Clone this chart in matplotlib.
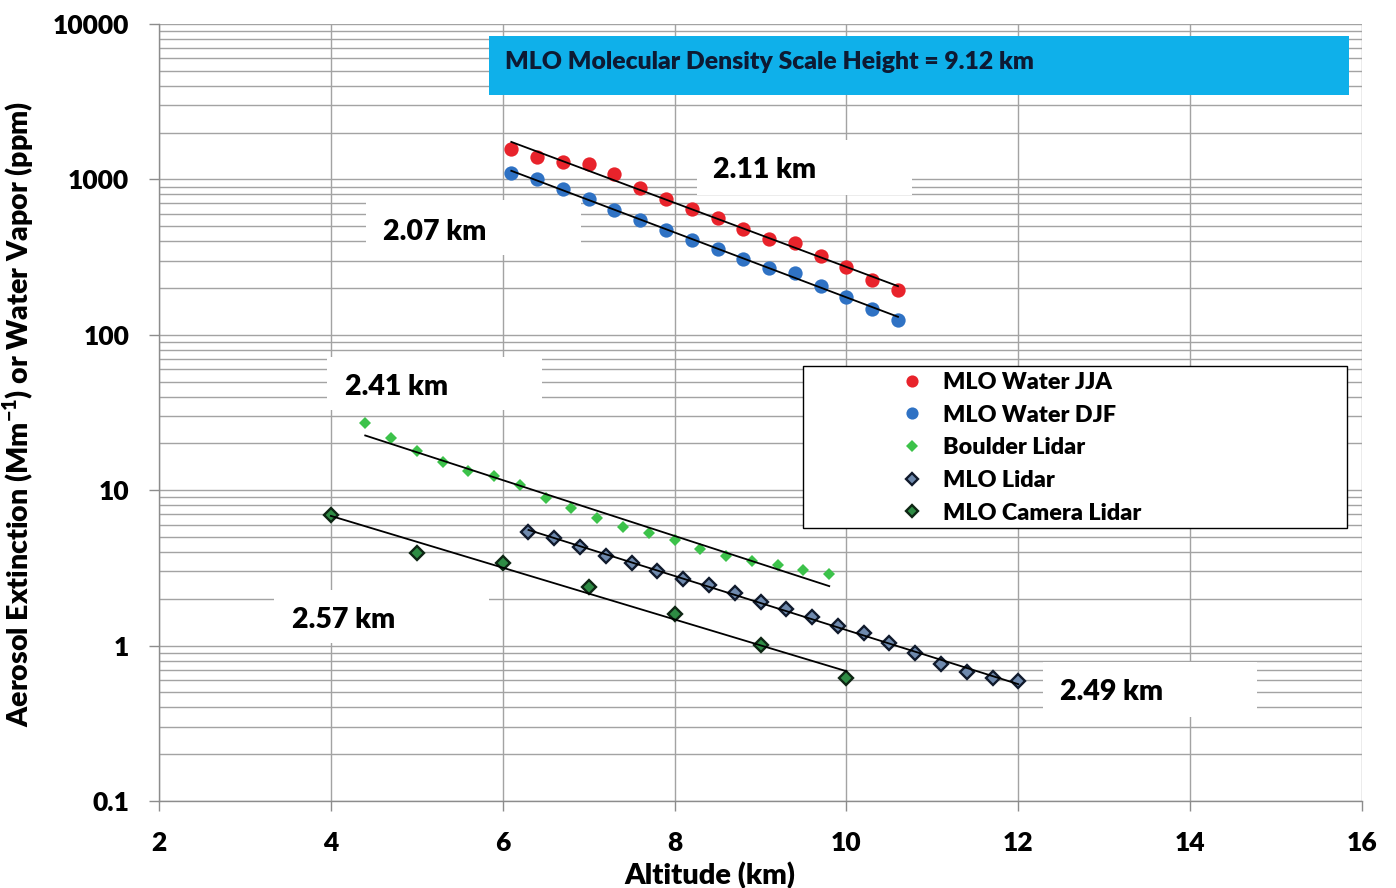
import numpy as np
import matplotlib
matplotlib.use("Agg")
import matplotlib.pyplot as plt
from matplotlib.patches import Rectangle
from matplotlib.ticker import FixedLocator, LogLocator, NullFormatter, FuncFormatter

# ---------------- data ----------------
x_water = [6.1, 6.4, 6.7, 7.0, 7.3, 7.6, 7.9, 8.2, 8.5, 8.8, 9.1, 9.4, 9.7, 10.0, 10.3, 10.6]
water_jja = [1560, 1400, 1300, 1255, 1080, 880, 750, 645, 565, 478, 412, 388, 320, 274, 225, 194]
water_djf = [1095, 1000, 865, 745, 640, 548, 472, 407, 357, 306, 268, 251, 207, 176, 147, 125]

x_boulder = [4.4, 4.7, 5.0, 5.3, 5.6, 5.9, 6.2, 6.5, 6.8, 7.1, 7.4, 7.7, 8.0, 8.3, 8.6, 8.9, 9.2, 9.5, 9.8]
boulder_lidar = [26.9, 21.6, 17.9, 15.2, 13.3, 12.3, 10.8, 8.87, 7.71, 6.65, 5.82, 5.28, 4.78, 4.17,
                 3.79, 3.52, 3.30, 3.06, 2.89]

x_mlo = [6.3, 6.6, 6.9, 7.2, 7.5, 7.8, 8.1, 8.4, 8.7, 9.0, 9.3, 9.6, 9.9, 10.2, 10.5, 10.8,
         11.1, 11.4, 11.7, 12.0]
mlo_lidar = [5.41, 4.90, 4.33, 3.79, 3.41, 3.02, 2.68, 2.45, 2.17, 1.92, 1.71, 1.53, 1.34, 1.21,
             1.04, 0.89, 0.758, 0.680, 0.621, 0.592]

x_camera = [4, 5, 6, 7, 8, 9, 10]
camera_lidar = [6.92, 3.96, 3.39, 2.39, 1.60, 1.01, 0.616]

series_names = ["MLO Water JJA", "MLO Water DJF", "Boulder Lidar", "MLO Lidar", "MLO Camera Lidar"]
scale_labels = ["2.11 km", "2.07 km", "2.41 km", "2.57 km", "2.49 km"]
title_text = "MLO Molecular Density Scale Height = 9.12 km"
x_ticks = [2, 4, 6, 8, 10, 12, 14, 16]
y_ticks = [0.1, 1, 10, 100, 1000, 10000]

# ---------------- style ----------------
WT = 'heavy'
plt.rcParams['font.family'] = ['Lato', 'DejaVu Sans']
plt.rcParams['font.weight'] = WT
plt.rcParams['mathtext.fontset'] = 'custom'
plt.rcParams['mathtext.rm'] = 'Lato:heavy'
plt.rcParams['mathtext.bf'] = 'Lato:heavy'

W, H = 1396, 888
fig = plt.figure(figsize=(W / 100, H / 100), dpi=100)
AX_L, AX_R, AX_T, AX_B = 159, 1362, 24, 801
ax = fig.add_axes([AX_L / W, (H - AX_B) / H, (AX_R - AX_L) / W, (AX_B - AX_T) / H])


def axx(px):
    return (px - AX_L) / (AX_R - AX_L)


def axy(py):
    return (AX_B - py) / (AX_B - AX_T)


GRID = '#a3a3a3'
ax.set_yscale('log')
ax.set_xlim(2, 16)
ax.set_ylim(0.1, 10000)
ax.xaxis.set_major_locator(FixedLocator(x_ticks))
ax.yaxis.set_major_locator(FixedLocator(y_ticks))
ax.yaxis.set_minor_locator(LogLocator(base=10, subs=np.arange(2, 10)))
ax.yaxis.set_minor_formatter(NullFormatter())
ax.yaxis.set_major_formatter(FuncFormatter(lambda v, p: f"{v:g}"))
ax.set_axisbelow(True)
ax.grid(True, which='major', axis='both', color=GRID, lw=1.0)
ax.grid(True, which='minor', axis='y', color=GRID, lw=1.0)
for s in ['top', 'right']:
    ax.spines[s].set_visible(False)
for s in ['left', 'bottom']:
    ax.spines[s].set_color('#8c8c8c')
    ax.spines[s].set_linewidth(1.0)
ax.tick_params(axis='both', which='major', direction='out', length=7, width=1.0, color='#8c8c8c',
               labelsize=19, labelcolor='black')
ax.tick_params(axis='x', which='major', pad=14.5)
ax.tick_params(axis='y', which='major', pad=14.5)
ax.tick_params(axis='y', which='minor', length=0)
for lab in ax.get_xticklabels() + ax.get_yticklabels():
    lab.set_fontweight(WT)

ax.set_xlabel("Altitude (km)", fontsize=21, fontweight=WT)
ax.xaxis.set_label_coords(axx(710), axy(862))
ax.set_ylabel(r"Aerosol Extinction (Mm$^{-1}$) or Water Vapor (ppm)", fontsize=20.5, fontweight=WT)
ax.yaxis.set_label_coords(axx(36), axy(414))

# ---------------- data series ----------------
RED = '#e8232b'
BLUE = '#2f72c4'
LGREEN = '#3cc24a'
ax.plot(x_water, water_jja, 'o', color=RED, ms=10.3, mew=0, zorder=3, label=series_names[0])
ax.plot(x_water, water_djf, 'o', color=BLUE, ms=10.3, mew=0, zorder=3, label=series_names[1])
ax.plot(x_boulder, boulder_lidar, 'D', color=LGREEN, ms=6.6, mew=0, zorder=3, label=series_names[2])
ax.plot(x_mlo, mlo_lidar, 'D', mfc='#6f8aae', mec='#101a2c', ms=7.4, mew=1.7, ls='none', zorder=3,
        label=series_names[3])
ax.plot(x_camera, camera_lidar, 'D', mfc='#2e8c44', mec='#0e2614', ms=7.4, mew=1.7, ls='none', zorder=3,
        label=series_names[4])

# exponential fit lines
for xs, ys in [(x_water, water_jja), (x_water, water_djf), (x_boulder, boulder_lidar),
               (x_mlo, mlo_lidar), (x_camera, camera_lidar)]:
    xa = np.asarray(xs, float)
    k, b = np.polyfit(xa, np.log(ys), 1)
    xf = np.array([xa.min(), xa.max()])
    ax.plot(xf, np.exp(b + k * xf), color='black', lw=1.3, zorder=4)

# ---------------- scale-height labels with white boxes ----------------
label_boxes = [(697, 912, 140, 195, 713, 170),
               (366, 581, 200, 255, 383, 232),
               (327, 542, 357, 410, 345, 387),
               (274, 489, 590, 643, 292, 620),
               (1043, 1257, 662, 717, 1060, 692)]
for txt, (x0, x1, y0, y1, tx, ty) in zip(scale_labels, label_boxes):
    ax.add_patch(Rectangle((axx(x0), axy(y1)), axx(x1) - axx(x0), axy(y0) - axy(y1),
                           transform=ax.transAxes, facecolor='white', edgecolor='none', zorder=1))
    ax.text(axx(tx), axy(ty), txt, transform=ax.transAxes, fontsize=20.5, fontweight=WT,
            ha='left', va='center', zorder=5)

# ---------------- title box ----------------
ax.add_patch(Rectangle((axx(489), axy(95)), axx(1349) - axx(489), axy(36) - axy(95),
                       transform=ax.transAxes, facecolor='#0fb0ea', edgecolor='none', zorder=2,
                       clip_on=False))
ax.text(axx(505), axy(62), title_text, transform=ax.transAxes, fontsize=17.8, fontweight=WT,
        color='#0d1a33', ha='left', va='center', zorder=5)

# ---------------- legend ----------------
ax.add_patch(Rectangle((axx(803), axy(528)), axx(1347) - axx(803), axy(366) - axy(528),
                       transform=ax.transAxes, facecolor='white', edgecolor='black', lw=1.0, zorder=5))
leg = ax.legend(loc='upper left', bbox_to_anchor=(axx(899), axy(372)), frameon=False,
                fontsize=16.8, borderaxespad=0, borderpad=0, handlelength=1.15, handletextpad=0.75,
                labelspacing=0.5, markerscale=0.85, numpoints=1)
leg.set_zorder(6)
for t in leg.get_texts():
    t.set_fontweight(WT)

fig.savefig("out.png", dpi=100, facecolor='white')
